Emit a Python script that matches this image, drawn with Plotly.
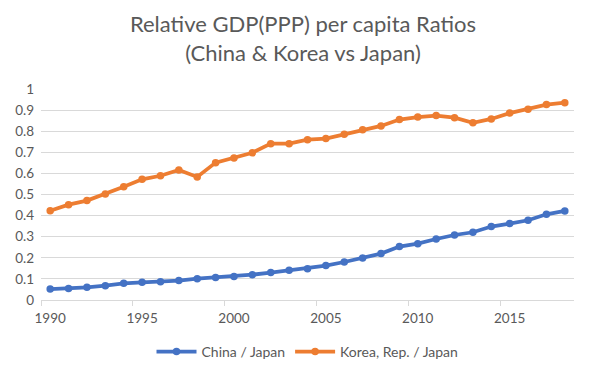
import plotly.graph_objects as go

years = list(range(1990, 2019))
china_japan = [0.052, 0.054, 0.060, 0.068, 0.079, 0.084, 0.087, 0.092, 0.101, 0.107,
               0.111, 0.120, 0.130, 0.141, 0.148, 0.163, 0.180, 0.199, 0.220, 0.253,
               0.267, 0.289, 0.308, 0.321, 0.348, 0.362, 0.378, 0.406, 0.422]
korea_japan = [0.423, 0.452, 0.471, 0.502, 0.537, 0.572, 0.589, 0.616, 0.583, 0.651,
               0.673, 0.698, 0.741, 0.741, 0.760, 0.765, 0.785, 0.807, 0.825, 0.855,
               0.867, 0.874, 0.864, 0.840, 0.858, 0.886, 0.904, 0.926, 0.935]
x_labels = [1990, 1995, 2000, 2005, 2010, 2015]
y_ticks = [0, 0.1, 0.2, 0.3, 0.4, 0.5, 0.6, 0.7, 0.8, 0.9, 1]

FONT = "Lato"
TXT = "#595959"
GRID = "#D9D9D9"

fig = go.Figure()
fig.add_trace(go.Scatter(x=years, y=china_japan, mode="lines+markers", name="China / Japan",
                         line=dict(color="#4472C4", width=3.75),
                         marker=dict(color="#4472C4", size=7.5)))
fig.add_trace(go.Scatter(x=years, y=korea_japan, mode="lines+markers", name="Korea, Rep. / Japan",
                         line=dict(color="#ED7D31", width=3.75),
                         marker=dict(color="#ED7D31", size=7.5)))

# The page body has an 8px default margin, so the figure is 8px smaller.
fig.update_layout(
    width=590, height=369,
    paper_bgcolor="white", plot_bgcolor="white",
    margin=dict(l=33, r=24, t=81, b=77, autoexpand=False),
    font=dict(family=FONT, color=TXT, size=13.5),
    title=dict(text="Relative GDP(PPP) per capita Ratios<br>(China & Korea vs Japan)",
               x=0.5, xanchor="center", y=0.934, yanchor="top", yref="container",
               font=dict(family=FONT, size=22, color=TXT)),
    legend=dict(orientation="h", x=0.5, xanchor="center", y=0.068, yanchor="middle",
                yref="container", font=dict(family=FONT, size=14, color=TXT),
                itemwidth=40, tracegroupgap=0),
    xaxis=dict(range=[1989.5, 2018.5], tickvals=x_labels, ticktext=[str(v) for v in x_labels],
               showgrid=False, zeroline=False, showline=True, linecolor=GRID, linewidth=1,
               ticks="", ticklabelstandoff=6, automargin=False,
               minor=dict(tickvals=[v - 0.5 for v in x_labels], ticks="outside",
                          ticklen=5, tickcolor=GRID, showgrid=False),
               fixedrange=True),
    yaxis=dict(range=[0, 1], tickvals=y_ticks, ticktext=[f"{v:g}" for v in y_ticks],
               showgrid=True, gridcolor=GRID, gridwidth=1, zeroline=False,
               showline=False, ticks="", ticklabelstandoff=6, automargin=False,
               fixedrange=True),
)

fig.write_html("out.html")
